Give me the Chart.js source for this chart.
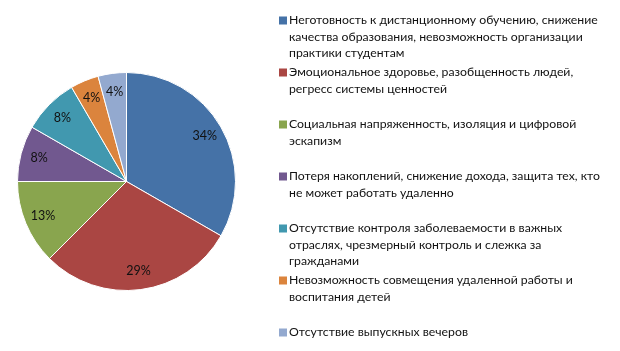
<!DOCTYPE html>
<html><head><meta charset="utf-8">
<script src="https://cdn.jsdelivr.net/npm/chart.js@4.4.0/dist/chart.umd.min.js"></script>
<style>html,body{margin:0;padding:0;background:#fff}#wrap{width:620px;height:351px;position:relative}</style>
</head><body><div id="wrap"><canvas id="c" width="620" height="351"></canvas></div>
<script>
const categories = [
  ["Неготовность к дистанционному обучению, снижение", "качества образования, невозможность организации", "практики студентам"],
  ["Эмоциональное здоровье, разобщенность людей,", "регресс системы ценностей"],
  ["Социальная напряженность, изоляция и цифровой", "эскапизм"],
  ["Потеря накоплений, снижение дохода, защита тех, кто", "не может работать удаленно"],
  ["Отсутствие контроля заболеваемости в важных", "отраслях, чрезмерный контроль и слежка за", "гражданами"],
  ["Невозможность совмещения удаленной работы и", "воспитания детей"],
  ["Отсутствие выпускных вечеров"]
];
const values = [33.3, 29.2, 12.5, 8.3, 8.3, 4.2, 4.2];
const pctLabels = ["34%", "29%", "13%", "8%", "8%", "4%", "4%"];
const colors = ["#4572A7", "#AA4643", "#89A54E", "#71588F", "#4198AF", "#DB843D", "#93A9CF"];

const FONT = "Lato, 'Open Sans', sans-serif";

const pieLabels = {
  id: 'pieLabels',
  afterDatasetsDraw(chart) {
    const ctx = chart.ctx;
    const meta = chart.getDatasetMeta(0);
    ctx.save();
    ctx.font = "12.5px " + FONT;
    ctx.fillStyle = "#111";
    ctx.textAlign = "center";
    ctx.textBaseline = "middle";
    meta.data.forEach((arc, i) => {
      const p = arc.getProps(['x','y','startAngle','endAngle','outerRadius'], true);
      const mid = (p.startAngle + p.endAngle) / 2;
      const r = p.outerRadius * 0.83;
      ctx.fillText(pctLabels[i], p.x + Math.cos(mid) * r, p.y + Math.sin(mid) * r);
    });
    ctx.restore();
  }
};

const sideLegend = {
  id: 'sideLegend',
  afterDraw(chart) {
    const ctx = chart.ctx;
    ctx.save();
    ctx.font = "14px " + FONT;
    const w = ctx.measureText(categories[0][0]).width;
    const size = 14 * 309 / w;
    ctx.font = size.toFixed(2) + "px " + FONT;
    ctx.textAlign = "left";
    ctx.textBaseline = "middle";
    const x0 = 279, tx = 289, y0 = 20.5, slot = 52, lh = 16.4;
    categories.forEach((lines, i) => {
      const y = y0 + slot * i;
      ctx.fillStyle = colors[i];
      ctx.fillRect(x0, y - 4, 8, 8);
      ctx.fillStyle = "#111";
      lines.forEach((t, j) => ctx.fillText(t, tx, y + lh * j));
    });
    ctx.restore();
  }
};

new Chart(document.getElementById('c'), {
  type: 'pie',
  data: {
    labels: categories.map(l => l.join(' ')),
    datasets: [{
      data: values,
      backgroundColor: colors,
      borderColor: '#ffffff',
      borderWidth: 1
    }]
  },
  options: {
    responsive: false,
    animation: false,
    layout: { padding: { left: 17, right: 384, top: 72, bottom: 60 } },
    plugins: { legend: { display: false }, tooltip: { enabled: false } }
  },
  plugins: [pieLabels, sideLegend]
});
</script>
</body></html>
